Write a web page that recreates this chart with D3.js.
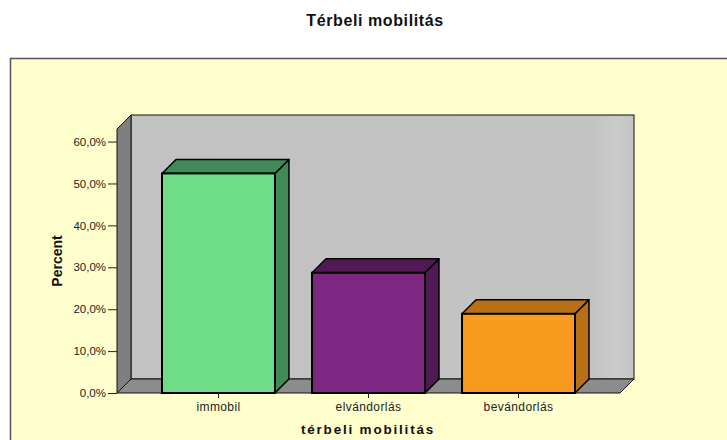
<!DOCTYPE html>
<html>
<head>
<meta charset="utf-8">
<script src="https://cdn.jsdelivr.net/npm/d3@7"></script>
<style>
  body { margin: 0; background: #fff; }
  svg { display: block; font-family: Arial, "Liberation Sans", sans-serif; }
</style>
</head>
<body>
<div id="chart"></div>
<script>
  // data
  var categories = ['immobil', 'elvándorlás', 'bevándorlás'];
  var percents = [52.4, 28.7, 18.9];
  var yTicks = [0, 10, 20, 30, 40, 50, 60];
  var frontColors = ['#6fdc88', '#7d2682', '#f99b1f'];
  var darkColors = ['#3f8a56', '#511a55', '#b86f16'];

  var width = 727, height = 440;
  var depth = 14; // 3d offset (x right, y up)
  var plot = { left: 117, right: 620, top: 129, bottom: 393 };

  var svg = d3.select('#chart').append('svg')
    .attr('width', width)
    .attr('height', height);

  var defs = svg.append('defs');
  var grad = defs.append('linearGradient').attr('id', 'wallGrad');
  grad.append('stop').attr('offset', '0%').attr('stop-color', '#c2c2c2');
  grad.append('stop').attr('offset', '92%').attr('stop-color', '#c3c3c3');
  grad.append('stop').attr('offset', '96%').attr('stop-color', '#cbcbcb');
  grad.append('stop').attr('offset', '100%').attr('stop-color', '#c4c4c4');

  // title
  svg.append('text')
    .attr('x', 375)
    .attr('y', 26)
    .attr('text-anchor', 'middle')
    .style('font-size', '16px')
    .style('font-weight', 'bold')
    .style('letter-spacing', '0.6px')
    .style('fill', '#111')
    .text('Térbeli mobilitás');

  // yellow panel
  svg.append('rect')
    .attr('x', 10.5)
    .attr('y', 58.5)
    .attr('width', 800)
    .attr('height', 500)
    .attr('fill', '#ffffcd')
    .attr('stroke', '#555')
    .attr('stroke-width', 1.5);

  // scales
  var xScale = d3.scaleBand()
    .domain(categories)
    .range([plot.left, plot.right])
    .paddingInner(0.247)
    .paddingOuter(0.3);

  var yScale = d3.scaleLinear()
    .domain([0, 63])
    .range([plot.bottom, plot.top]);

  var y0 = yScale(0), yTop = yScale(63);
  var line = d3.line();

  // back wall
  svg.append('rect')
    .attr('x', plot.left + depth)
    .attr('y', yTop - depth)
    .attr('width', plot.right - plot.left)
    .attr('height', y0 - yTop)
    .attr('fill', 'url(#wallGrad)')
    .attr('stroke', '#111')
    .attr('stroke-width', 1);

  // left wall
  svg.append('path')
    .attr('d', line([[plot.left, y0], [plot.left, yTop], [plot.left + depth, yTop - depth],
      [plot.left + depth, y0 - depth]]) + 'Z')
    .attr('fill', '#7f7f7f')
    .attr('stroke', '#111')
    .attr('stroke-width', 1);

  // floor
  svg.append('path')
    .attr('d', line([[plot.left, y0], [plot.right, y0], [plot.right + depth, y0 - depth],
      [plot.left + depth, y0 - depth]]) + 'Z')
    .attr('fill', '#8c8c8c')
    .attr('stroke', '#111')
    .attr('stroke-width', 1);

  // Y axis
  var yAxis = d3.axisLeft(yScale)
    .tickValues(yTicks)
    .tickSize(9)
    .tickPadding(2)
    .tickFormat(function(d) { return d.toFixed(1).replace('.', ',') + '%'; });

  var gy = svg.append('g')
    .attr('transform', 'translate(' + plot.left + ',0)')
    .call(yAxis);
  gy.select('.domain').remove();
  gy.selectAll('line').attr('stroke', '#222');
  gy.selectAll('text')
    .style('font-size', '11.5px')
    .style('fill', '#222')
    .style('font-family', 'Arial, "Liberation Sans", sans-serif');

  // Y label
  svg.append('text')
    .attr('transform', 'translate(62,261) rotate(-90)')
    .attr('text-anchor', 'middle')
    .style('font-size', '14px')
    .style('font-weight', 'bold')
    .style('fill', '#111')
    .text('Percent');

  // bars
  var bars = svg.selectAll('.bar')
    .data(categories)
    .enter().append('g')
    .attr('class', 'bar');

  bars.each(function(c, i) {
    var g = d3.select(this);
    var x0 = xScale(c), x1 = x0 + xScale.bandwidth();
    var yt = yScale(percents[i]);
    // side face
    g.append('path')
      .attr('d', line([[x1, yt], [x1 + depth, yt - depth], [x1 + depth, y0 - depth], [x1, y0]]) + 'Z')
      .attr('fill', darkColors[i])
      .attr('stroke', '#000')
      .attr('stroke-width', 1.5)
      .attr('stroke-linejoin', 'round');
    // top face
    g.append('path')
      .attr('d', line([[x0, yt], [x0 + depth, yt - depth], [x1 + depth, yt - depth], [x1, yt]]) + 'Z')
      .attr('fill', darkColors[i])
      .attr('stroke', '#000')
      .attr('stroke-width', 1.5)
      .attr('stroke-linejoin', 'round');
    // front face
    g.append('rect')
      .attr('x', x0)
      .attr('y', yt)
      .attr('width', x1 - x0)
      .attr('height', y0 - yt)
      .attr('fill', frontColors[i])
      .attr('stroke', '#000')
      .attr('stroke-width', 2);
  });

  // X axis
  var xAxis = d3.axisBottom(xScale)
    .tickSize(5)
    .tickPadding(4);

  var gx = svg.append('g')
    .attr('transform', 'translate(0,' + y0 + ')')
    .call(xAxis);
  gx.select('.domain').remove();
  gx.selectAll('line').attr('stroke', '#222');
  gx.selectAll('text')
    .style('font-size', '12px')
    .style('letter-spacing', '0.4px')
    .style('fill', '#222')
    .style('font-family', 'Arial, "Liberation Sans", sans-serif');

  // X label
  svg.append('text')
    .attr('x', 368)
    .attr('y', 434)
    .attr('text-anchor', 'middle')
    .style('font-size', '13.5px')
    .style('font-weight', 'bold')
    .style('letter-spacing', '1.8px')
    .style('fill', '#111')
    .text('térbeli mobilitás');
</script>
</body>
</html>
